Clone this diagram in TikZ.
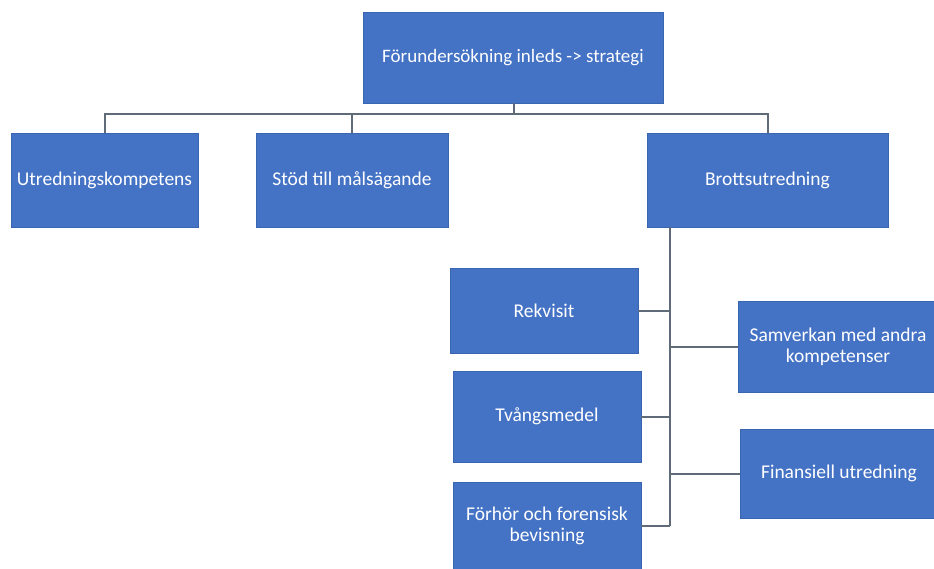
\documentclass[tikz,border=0pt]{standalone}
\usepackage{fontspec}
\setmainfont{Carlito}
\definecolor{boxblue}{HTML}{4472C4}
\definecolor{boxedge}{HTML}{3A65B0}
\definecolor{linegray}{HTML}{5F6B78}
\tikzset{
  box/.style={rectangle, fill=boxblue, draw=boxedge, line width=0.8pt, text=white, align=center, inner sep=2pt, font=\fontsize{19.5}{21}\selectfont},
  conn/.style={draw=linegray, line width=2pt}
}
\begin{document}
\begin{tikzpicture}[x=1pt,y=-1pt]
\useasboundingbox (0,0) rectangle (934,569);
\fill[white] (0,0) rectangle (934,569);
\node[box, minimum width=300, minimum height=91, font=\fontsize{19}{21}\selectfont] (top) at (513,57.5) {Förundersökning inleds -> strategi};
\node[box, minimum width=187, minimum height=94] (utr) at (104.5,180) {Utredningskompetens};
\node[box, minimum width=192, minimum height=94] (stod) at (352,180) {Stöd till målsägande};
\node[box, minimum width=241, minimum height=94] (brott) at (767.5,180) {Brottsutredning};
\node[box, minimum width=188, minimum height=85] (rek) at (544,310.5) {Rekvisit};
\node[box, minimum width=188, minimum height=91] (tvang) at (547,416.5) {Tvångsmedel};
\node[box, minimum width=188, minimum height=88] (forhor) at (547,526) {Förhör och forensisk\\bevisning};
\node[box, minimum width=200, minimum height=91] (samv) at (838,346.5) {Samverkan med andra\\kompetenser};
\node[box, minimum width=198, minimum height=89] (fin) at (839,473.5) {Finansiell utredning};
\coordinate (bus) at (514,114);
\coordinate (bv) at (670,227);
\coordinate (bend) at (670,526);
\draw[conn] (top.south -| bus) -- (bus);
\draw[conn] (bus) -- (bus -| utr.north) -- (utr.north);
\draw[conn] (bus) -- (bus -| brott.north) -- (brott.north);
\draw[conn] (bus -| stod.north) -- (stod.north);
\draw[conn] (bv) -- (bend);
\draw[conn] (rek.east) -- (rek.east -| bv);
\draw[conn] (tvang.east) -- (tvang.east -| bv);
\draw[conn] (forhor.east) -- (forhor.east -| bv);
\draw[conn] (samv.west) -- (samv.west -| bv);
\draw[conn] (fin.west) -- (fin.west -| bv);
\end{tikzpicture}
\end{document}
